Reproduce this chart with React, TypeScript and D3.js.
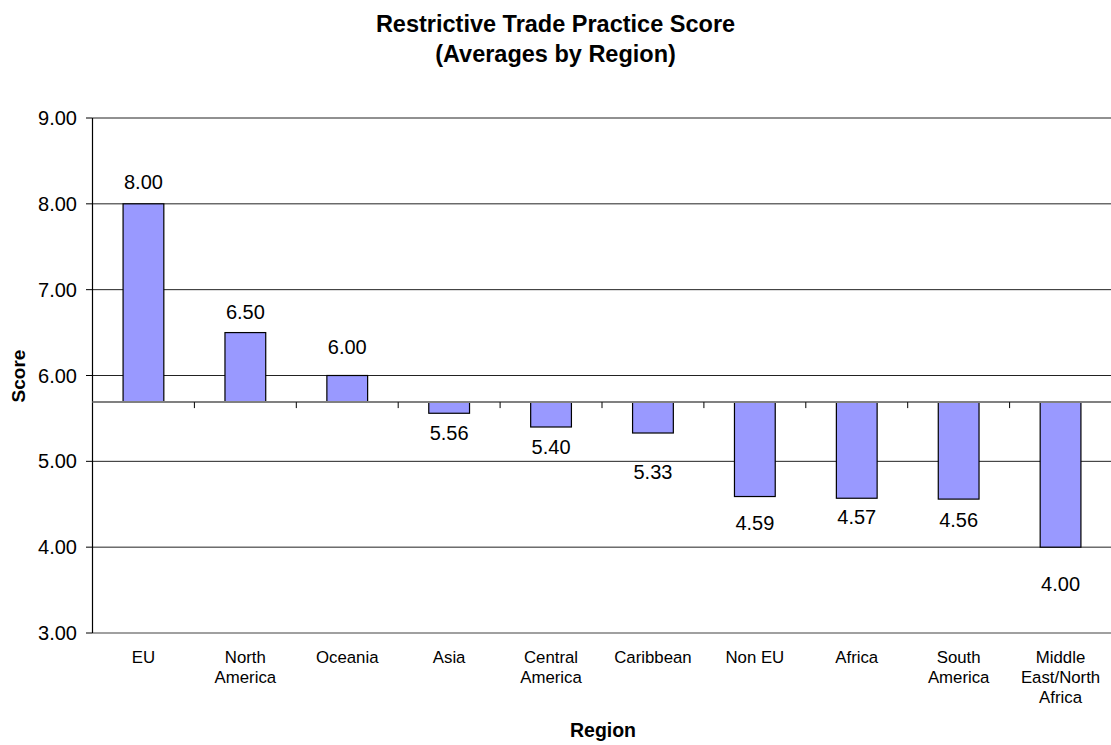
import React from "react";
import * as d3 from "d3";

const categories: string[][] = [
  ["EU"],
  ["North", "America"],
  ["Oceania"],
  ["Asia"],
  ["Central", "America"],
  ["Caribbean"],
  ["Non EU"],
  ["Africa"],
  ["South", "America"],
  ["Middle", "East/North", "Africa"],
];
const scores: number[] = [8.0, 6.5, 6.0, 5.56, 5.4, 5.33, 4.59, 4.57, 4.56, 4.0];
const baselineValue = 5.69;
const yTicks: number[] = [3, 4, 5, 6, 7, 8, 9];
const titleLines: string[] = ["Restrictive Trade Practice Score", "(Averages by Region)"];

// label placement tweaks (px), styling only
const labelNudge: number[] = [1, 0, 8, 0, 0, 19, 6, -1, 1, 17];

const W = 1111;
const H = 745;
const left = 92.5;
const right = 1111.5;
const top = 118;
const bottom = 633;
const FONT = "Liberation Sans, Arial, Helvetica, sans-serif";

export default function App() {
  const keys = categories.map((c) => c.join(" "));
  const x = d3.scaleBand<string>().domain(keys).range([left, right]).paddingInner(0).paddingOuter(0);
  const y = d3.scaleLinear().domain([3, 9]).range([bottom, top]);
  const step = x.step();
  const barW = step / 2.5;
  const y0 = y(baselineValue);

  return (
    <svg width={W} height={H} style={{ position: "absolute", left: 0, top: 0, background: "#fff" }} fontFamily={FONT}>
      {titleLines.map((t, i) => (
        <text key={t} x={W / 2} y={32 + i * 29.5} textAnchor="middle" fontWeight="bold" fontSize={23.5} fill="#000">
          {t}
        </text>
      ))}
      {yTicks.map((t) => (
        <line
          key={"g" + t}
          x1={left}
          x2={right}
          y1={y(t)}
          y2={y(t)}
          stroke={t === 3 ? "#808080" : "#222"}
          strokeWidth={t === 3 ? 1.5 : 1}
        />
      ))}
      <line x1={left} x2={left} y1={top} y2={bottom} stroke="#000" strokeWidth={1.2} />
      {yTicks.map((t) => (
        <g key={"t" + t}>
          <line x1={left - 6.5} x2={left} y1={y(t)} y2={y(t)} stroke="#000" />
          <text x={77} y={y(t)} textAnchor="end" dominantBaseline="central" fontSize={20} fill="#000">
            {t.toFixed(2)}
          </text>
        </g>
      ))}
      {scores.map((v, i) => {
        const cx = (x(keys[i]) as number) + step / 2;
        const yv = y(v);
        const yTop = Math.min(yv, y0);
        const h = Math.abs(yv - y0);
        return (
          <rect key={"b" + i} x={cx - barW / 2} y={yTop} width={barW} height={h} fill="#9999FF" stroke="#000" strokeWidth={1.2} />
        );
      })}
      <line x1={left} x2={right} y1={y0} y2={y0} stroke="#808080" strokeWidth={2} />
      {keys.map((k, i) =>
        i === 0 ? null : (
          <line key={"ct" + i} x1={x(k) as number} x2={x(k) as number} y1={y0} y2={y0 + 6} stroke="#000" />
        )
      )}
      {scores.map((v, i) => {
        const cx = (x(keys[i]) as number) + step / 2;
        const ly = v >= baselineValue ? y(v) - 21 - labelNudge[i] : y(v) + 20 + labelNudge[i];
        return (
          <text key={"v" + i} x={cx} y={ly} textAnchor="middle" dominantBaseline="central" fontSize={20} fill="#000">
            {v.toFixed(2)}
          </text>
        );
      })}
      {categories.map((lines, i) => {
        const cx = (x(keys[i]) as number) + step / 2;
        return (
          <text key={"c" + i} x={cx} textAnchor="middle" fontSize={16.8} fill="#000">
            {lines.map((l, j) => (
              <tspan key={j} x={cx} y={657 + j * 20.3} dominantBaseline="central">
                {l}
              </tspan>
            ))}
          </text>
        );
      })}
      <text x={603} y={730} textAnchor="middle" dominantBaseline="central" fontWeight="bold" fontSize={19.5} fill="#000">
        Region
      </text>
      <text
        transform={`translate(18,376) rotate(-90)`}
        textAnchor="middle"
        dominantBaseline="central"
        fontWeight="bold"
        fontSize={19}
        fill="#000"
      >
        Score
      </text>
    </svg>
  );
}
